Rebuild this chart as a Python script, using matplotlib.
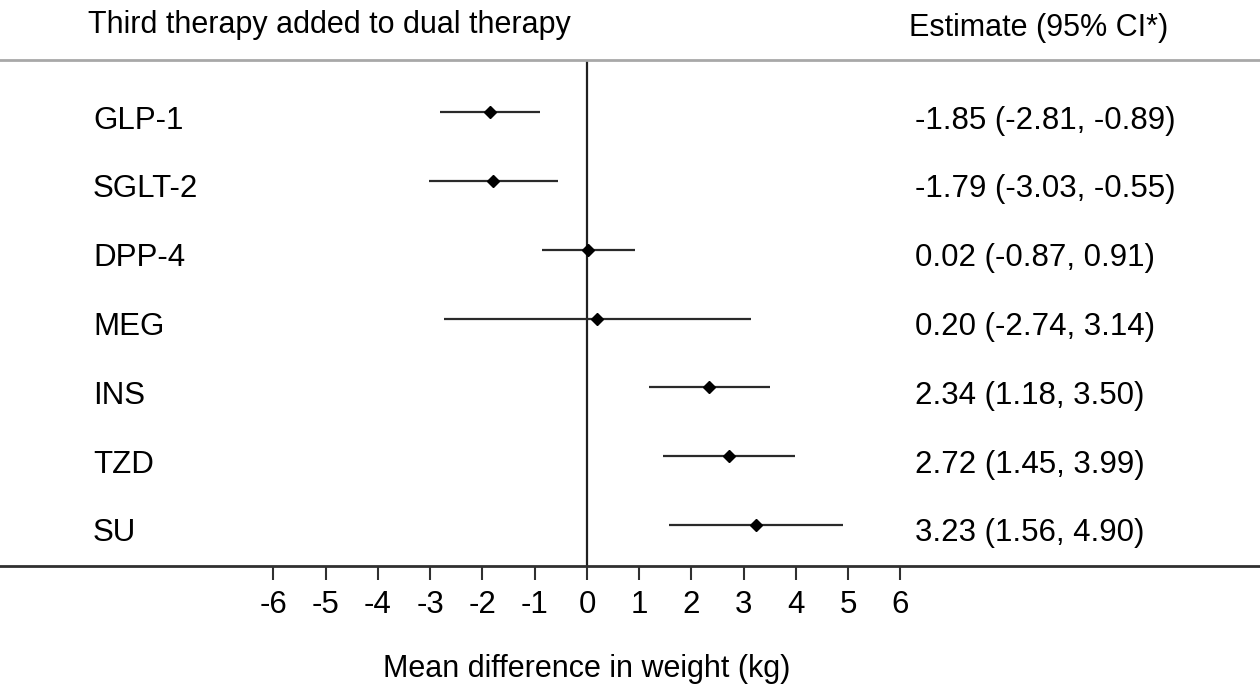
import matplotlib
matplotlib.use("Agg")
import matplotlib.pyplot as plt
from matplotlib.transforms import offset_copy

therapies = ["GLP-1", "SGLT-2", "DPP-4", "MEG", "INS", "TZD", "SU"]
estimates = [-1.85, -1.79, 0.02, 0.20, 2.34, 2.72, 3.23]
lower = [-2.81, -3.03, -0.87, -2.74, 1.18, 1.45, 1.56]
upper = [-0.89, -0.55, 0.91, 3.14, 3.50, 3.99, 4.90]
xticks = [-6, -5, -4, -3, -2, -1, 0, 1, 2, 3, 4, 5, 6]

plt.rcParams['font.family'] = ['Liberation Sans', 'DejaVu Sans']
W, H = 1260, 687
DPI = 100
fig = plt.figure(figsize=(W / DPI, H / DPI), dpi=DPI)
top_px, bot_px = 60, 566
ax = fig.add_axes([0, 1 - bot_px / H, 1, (bot_px - top_px) / H])

x0_px, unit_px = 587, 52.25
ax.set_xlim(-x0_px / unit_px, (W - x0_px) / unit_px)
n = len(therapies)
ys = [n - 1 - i for i in range(n)]
row_px = 68.8
ax.set_ylim(-(bot_px - 525) / row_px, (n - 1) + (112 - top_px) / row_px)

lc = '#2a2a2a'
for y, e, lo, hi in zip(ys, estimates, lower, upper):
    ax.plot([lo, hi], [y, y], color=lc, lw=1.6, solid_capstyle='butt', zorder=2)
    ax.plot([e], [y], marker='D', color='black', ms=6.5, zorder=3)

xl = ax.get_xlim()
# baseline a bit below each CI line, as in the reference
txt_tr = offset_copy(ax.transData, fig=fig, x=0, y=-16.5 * 72 / DPI, units='points')
for y, name, e, lo, hi in zip(ys, therapies, estimates, lower, upper):
    ax.text(xl[0] + 93 / unit_px, y, name, fontsize=22.5, va='baseline', ha='left',
            transform=txt_tr)
    ax.text(xl[0] + 915 / unit_px, y, f"{e:.2f} ({lo:.2f}, {hi:.2f})",
            fontsize=22.5, va='baseline', ha='left', transform=txt_tr)

ax.axvline(0, color='#202020', lw=1.6, zorder=1)

for s in ['left', 'right']:
    ax.spines[s].set_visible(False)
ax.spines['top'].set_color('#a8a8a8')
ax.spines['top'].set_linewidth(2)
ax.spines['bottom'].set_color('#303030')
ax.spines['bottom'].set_linewidth(2)

ax.set_yticks([])
ax.set_xticks(xticks)
ax.set_xticklabels([str(t) for t in xticks], fontsize=22.5)
ax.tick_params(axis='x', direction='out', length=10, width=1.5, color='#303030', pad=7.5)
ax.set_xlabel("Mean difference in weight (kg)", fontsize=22, va='center')
ax.xaxis.set_label_coords(x0_px / W, -(669 - bot_px) / (bot_px - top_px))

fig.text(88 / W, 1 - 33 / H, "Third therapy added to dual therapy", fontsize=22,
         ha='left', va='baseline')
fig.text(909 / W, 1 - 36 / H, "Estimate (95% CI*)", fontsize=22, ha='left', va='baseline')

fig.savefig("out.png", dpi=DPI)
